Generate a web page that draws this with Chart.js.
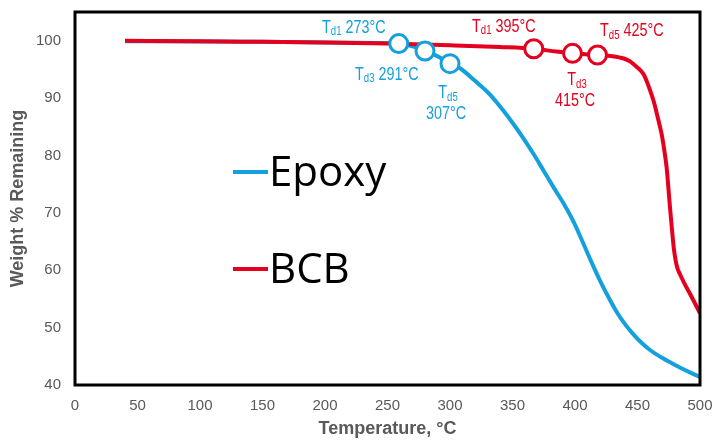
<!DOCTYPE html>
<html>
<head>
<meta charset="utf-8">
<script src="https://cdn.jsdelivr.net/npm/chart.js@4.4.1/dist/chart.umd.min.js"></script>
<style>
  html, body { margin: 0; padding: 0; background: #ffffff; }
  #wrap { width: 718px; height: 440px; position: relative; }
</style>
</head>
<body>
<div id="wrap"><canvas id="c" width="718" height="440"></canvas></div>
<script>
// ---- data ----
const epoxyTemp   = [40, 100, 150, 200, 240, 259, 270, 280, 290, 300, 308, 320, 332, 342, 351, 359, 367, 375, 383, 391, 399, 406, 413, 420, 427, 434, 440, 446, 453, 460, 470, 480, 490, 500];
const epoxyWeight = [99.9, 99.85, 99.8, 99.7, 99.6, 99.5, 99.0, 98.2, 97.3, 96.0, 95.2, 93.0, 90.6, 88.0, 85.4, 82.9, 80.2, 77.3, 74.4, 71.6, 68.4, 65.0, 61.5, 58.2, 55.2, 52.5, 50.6, 49.0, 47.4, 46.1, 44.7, 43.5, 42.4, 41.4];

const bcbTemp   = [40, 100, 150, 200, 250, 300, 340, 367, 385, 398, 418, 430, 439, 444, 450, 455, 459, 463, 466, 469.3, 471.5, 473.3, 476, 477.5, 479, 480.5, 482, 484, 488, 492, 500];
const bcbWeight = [100, 99.9, 99.8, 99.7, 99.5, 99.2, 98.9, 98.6, 98.1, 97.8, 97.5, 97.3, 96.9, 96.4, 95.3, 94.1, 92.0, 89.4, 86.8, 83.7, 80.8, 77.9, 70.9, 67.3, 63.9, 61.7, 60.3, 59.3, 57.5, 55.9, 52.5];

// decomposition markers (Td1, Td3, Td5)
const epoxyMarkTemp   = [259, 280, 300];
const epoxyMarkWeight = [99.5, 98.2, 96.0];
const bcbMarkTemp     = [367, 398, 418];
const bcbMarkWeight   = [98.6, 97.8, 97.5];

// annotation labels: [subscript, value text, x, y, align]
const epoxyLabels = [
  ['d1', ' 273°C', 197.6, 102.25, 'left'],
  ['d3', ' 291°C', 224, 94.1, 'left'],
  ['d5', '', 298.4, 90.8, 'center'],
  ['', '307°C', 296.8, 87.2, 'center']
];
const bcbLabels = [
  ['d1', ' 395°C', 317.6, 102.4, 'left'],
  ['d3', '', 401.6, 93.1, 'center'],
  ['', '415°C', 400, 89.4, 'center'],
  ['d5', ' 425°C', 420, 101.6, 'left']
];

const seriesNames = ['Epoxy', 'BCB'];
const xTicks = [0, 50, 100, 150, 200, 250, 300, 350, 400, 450, 500];
const yTicks = [40, 50, 60, 70, 80, 90, 100];

const BLUE = '#14a0dc';
const RED = '#e4001e';
const GRAY = '#595959';

const toXY = (xs, ys) => xs.map((x, i) => ({ x: x, y: ys[i] }));

const boxPlugin = {
  id: 'box',
  afterDatasetsDraw(chart) {
    const a = chart.chartArea, ctx = chart.ctx;
    ctx.save();
    ctx.strokeStyle = '#000';
    ctx.lineWidth = 3;
    ctx.strokeRect(a.left, a.top, a.right - a.left, a.bottom - a.top);
    ctx.restore();
  }
};

const labelPlugin = {
  id: 'tdLabels',
  afterDatasetsDraw(chart) {
    const ctx = chart.ctx, xs = chart.scales.x, ys = chart.scales.y;
    const fam = '"Liberation Sans", Arial, sans-serif';
    const squeeze = 0.8;
    function drawSet(list, color) {
      list.forEach(([sub, txt, x, y, align]) => {
        const px = xs.getPixelForValue(x), py = ys.getPixelForValue(y);
        ctx.save();
        ctx.fillStyle = color;
        ctx.textBaseline = 'middle';
        const bigF = '18px ' + fam, smallF = '12px ' + fam;
        let parts = [];
        if (sub) { parts.push(['T', bigF, 0]); parts.push([sub, smallF, 4]); }
        if (txt) parts.push([txt, bigF, 0]);
        let total = 0;
        parts.forEach(p => { ctx.font = p[1]; total += ctx.measureText(p[0]).width; });
        total *= squeeze;
        const sx = align === 'center' ? px - total / 2 : px;
        ctx.translate(sx, py);
        ctx.scale(squeeze, 1);
        ctx.textAlign = 'left';
        let cx = 0;
        parts.forEach(p => {
          ctx.font = p[1];
          ctx.fillText(p[0], cx, p[2]);
          cx += ctx.measureText(p[0]).width;
        });
        ctx.restore();
      });
    }
    drawSet(epoxyLabels, BLUE);
    drawSet(bcbLabels, RED);
  }
};

const legendPlugin = {
  id: 'bigLegend',
  afterDatasetsDraw(chart) {
    const ctx = chart.ctx;
    const items = [[seriesNames[0], BLUE, 172], [seriesNames[1], RED, 269]];
    ctx.save();
    items.forEach(([name, color, y]) => {
      ctx.strokeStyle = color;
      ctx.lineWidth = 4;
      ctx.beginPath();
      ctx.moveTo(233, y);
      ctx.lineTo(268, y);
      ctx.stroke();
      ctx.fillStyle = '#000';
      ctx.font = '42px "Open Sans", "Noto Sans", sans-serif';
      ctx.textAlign = 'left';
      ctx.textBaseline = 'alphabetic';
      ctx.fillText(name, 269, y + 14);
    });
    ctx.restore();
  }
};

new Chart(document.getElementById('c'), {
  type: 'scatter',
  data: {
    datasets: [
      { label: 'Epoxy markers', data: toXY(epoxyMarkTemp, epoxyMarkWeight), order: 0,
        pointRadius: 9, pointBorderWidth: 3, pointBackgroundColor: '#fff', pointBorderColor: BLUE, showLine: false },
      { label: 'BCB markers', data: toXY(bcbMarkTemp, bcbMarkWeight), order: 0,
        pointRadius: 9, pointBorderWidth: 3, pointBackgroundColor: '#fff', pointBorderColor: RED, showLine: false },
      { label: seriesNames[0], data: toXY(epoxyTemp, epoxyWeight), order: 2, showLine: true,
        borderColor: BLUE, borderWidth: 4, pointRadius: 0, cubicInterpolationMode: 'monotone' },
      { label: seriesNames[1], data: toXY(bcbTemp, bcbWeight), order: 1, showLine: true,
        borderColor: RED, borderWidth: 4, pointRadius: 0, cubicInterpolationMode: 'monotone' }
    ]
  },
  options: {
    responsive: false,
    animation: false,
    devicePixelRatio: 1,
    layout: { padding: { left: 0, right: 18, top: 10, bottom: 0 } },
    plugins: { legend: { display: false }, tooltip: { enabled: false } },
    scales: {
      x: {
        type: 'linear', min: 0, max: 500,
        grid: { display: false, drawTicks: false },
        border: { display: false },
        afterBuildTicks: s => { s.ticks = xTicks.map(v => ({ value: v })); },
        afterFit: s => { s.height = 55; s.paddingLeft = 0; s.paddingRight = 0; },
        ticks: { color: GRAY, padding: 12, maxRotation: 0, font: { family: '"Liberation Sans", Arial, sans-serif', size: 15 } },
        title: { display: true, text: 'Temperature, °C', color: GRAY, padding: { top: 0, bottom: 0 },
          font: { family: '"Liberation Sans", Arial, sans-serif', size: 18, weight: 'bold' } }
      },
      y: {
        type: 'linear', min: 40, max: 105,
        grid: { display: false, drawTicks: false },
        border: { display: false },
        afterBuildTicks: s => { s.ticks = yTicks.map(v => ({ value: v })); },
        afterFit: s => { s.width = 75; s.paddingTop = 0; s.paddingBottom = 0; },
        ticks: { color: GRAY, padding: 14, font: { family: '"Liberation Sans", Arial, sans-serif', size: 15 } },
        title: { display: true, text: 'Weight % Remaining', color: GRAY, padding: { top: 7, bottom: 0 },
          font: { family: '"Liberation Sans", Arial, sans-serif', size: 18, weight: 'bold' } }
      }
    }
  },
  plugins: [boxPlugin, labelPlugin, legendPlugin]
});
</script>
</body>
</html>
